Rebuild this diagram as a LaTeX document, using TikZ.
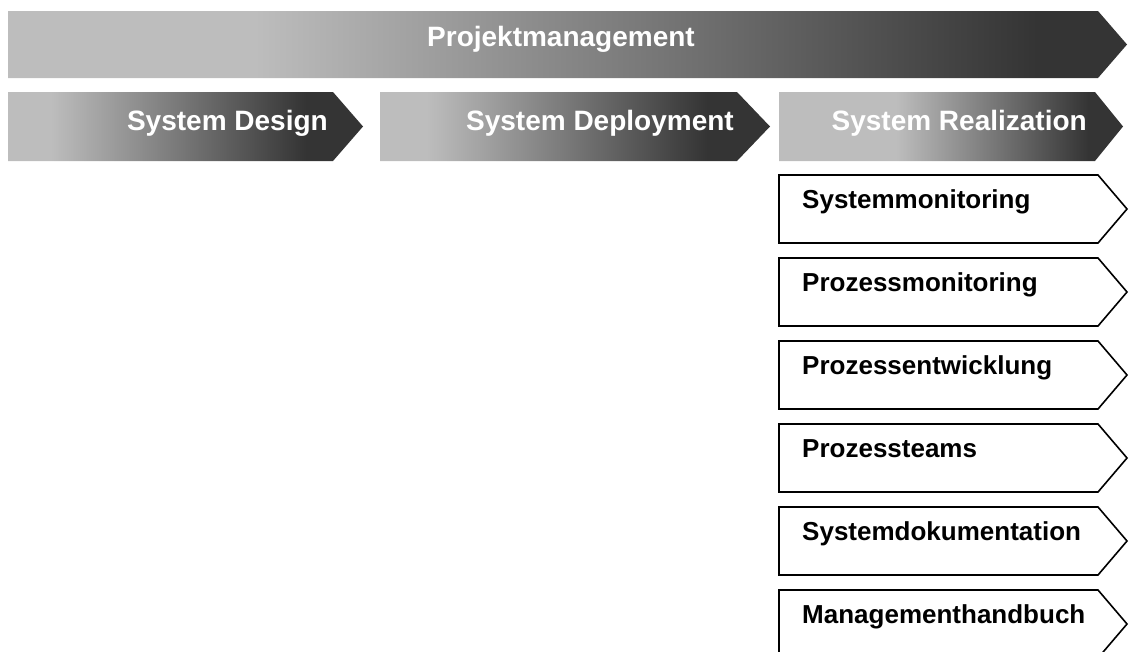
\documentclass[tikz,border=0pt]{standalone}
\usepackage{fontspec}
\setmainfont{Liberation Sans}
\definecolor{phaselight}{RGB}{189,189,189}
\definecolor{phasedark}{RGB}{52,52,52}
\pgfdeclarehorizontalshading{project}{100bp}{color(0bp)=(phaselight); color(36bp)=(phaselight); color(71bp)=(phasedark); color(100bp)=(phasedark)}
\pgfdeclarehorizontalshading{phase}{100bp}{color(0bp)=(phaselight); color(31bp)=(phaselight); color(67bp)=(phasedark); color(100bp)=(phasedark)}
\pgfdeclarehorizontalshading{phaselate}{100bp}{color(0bp)=(phaselight); color(42bp)=(phaselight); color(70bp)=(phasedark); color(100bp)=(phasedark)}

\begin{document}
\begin{tikzpicture}[x=1pt,y=-1pt,
	  bar/.style={shade,shading=#1},
	  headline/.style={text=white,inner sep=0pt,font=\fontsize{28}{34}\selectfont\bfseries},
	  task/.style={draw=black,line width=1.6pt,fill=white},
	  tasklabel/.style={anchor=base west,inner sep=0pt,font=\fontsize{26}{32}\selectfont\bfseries},
	  ]
	  \clip (0,0) rectangle (1134,651);
	  % project bar on top
	  \path[bar=project] (8,11) -- (1098,11) -- (1127,44.5) -- (1098,78) -- (8,78) -- cycle;
	  \node[headline,anchor=base] (pm) at (561,46) {Projektmanagement};
	  % the three phases
	  \path[bar=phase] (8,92) -- (333,92) -- (363,126.5) -- (333,161) -- (8,161) -- cycle;
	  \path[bar=phase] (380,92) -- (737,92) -- (770,126.5) -- (737,161) -- (380,161) -- cycle;
	  \path[bar=phaselate] (779,92) -- (1095,92) -- (1123,126.5) -- (1095,161) -- (779,161) -- cycle;
	  \node[headline,anchor=base east] (design) at (328,130) {System Design};
	  \node[headline,anchor=base east] (deployment) at (734,130) {System Deployment};
	  \node[headline,anchor=base east] (realization) at (1087,130) {System Realization};
	  % tasks of the realization phase
	  \foreach \y/\name/\txt in {175/sysmon/Systemmonitoring,258/procmon/Prozessmonitoring,
	      341/procdev/Prozessentwicklung,424/teams/Prozessteams,
	      507/sysdoc/Systemdokumentation,590/handbook/Managementhandbuch}{
	    \path[task] (779,\y) -- (1098,\y) -- (1127,\y+34) -- (1098,\y+68) -- (779,\y+68) -- cycle;
	    \node[tasklabel] (\name) at (802,\y+33.5) {\txt};
	  }
	\end{tikzpicture}
\end{document}
